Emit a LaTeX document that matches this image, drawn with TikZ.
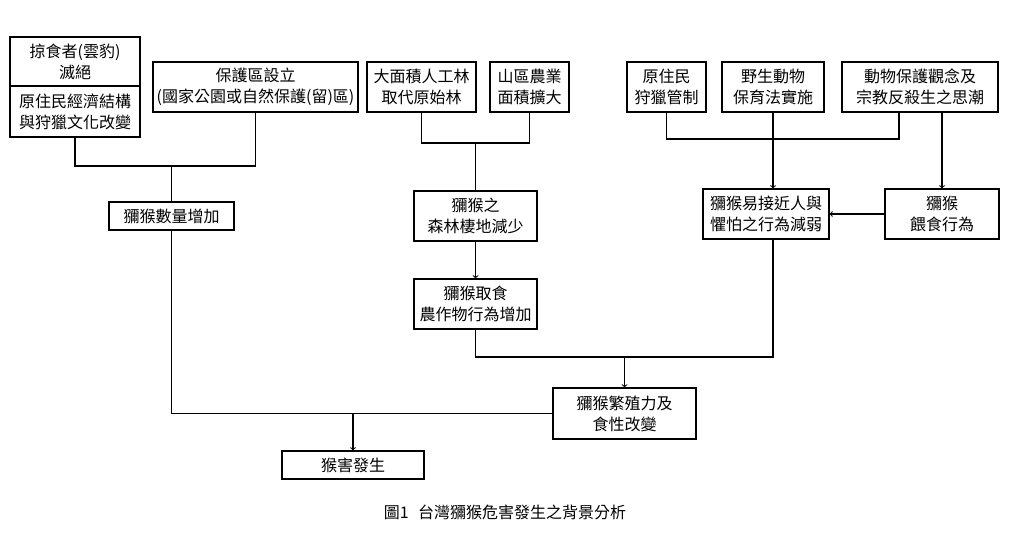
\documentclass[tikz,border=0pt]{standalone}
\usepackage{fontspec}
\setmainfont{Noto Sans CJK TC}
\begin{document}
\begin{tikzpicture}[x=1pt, y=-1pt,
	box/.style={draw, line width=1.1pt, inner sep=0pt, align=center, font=\fontsize{16pt}{21pt}\selectfont},
	link/.style={line width=1.1pt},
	arr/.style={-to, line width=1.1pt}]
				\useasboundingbox (0,0) rectangle (1024,540);
				% top row
				\node[box, minimum width=130, minimum height=49] (pred) at (75,61.5) {掠食者(雲豹)\\滅絕};
				\node[box, minimum width=130, minimum height=51] (econ) at (75,111.5) {原住民經濟結構\\與狩獵文化改變};
				\node[box, minimum width=205, minimum height=50] (reserve) at (255.5,87) {保護區設立\\(國家公園或自然保護(留)區)};
				\node[box, minimum width=109, minimum height=50] (plant) at (421.5,87) {大面積人工林\\取代原始林};
				\node[box, minimum width=79, minimum height=50] (farm) at (529.5,87) {山區農業\\面積擴大};
				\node[box, minimum width=79, minimum height=50] (hunt) at (666.5,87) {原住民\\狩獵管制};
				\node[box, minimum width=102, minimum height=50] (law) at (773,87) {野生動物\\保育法實施};
				\node[box, minimum width=156, minimum height=50] (belief) at (920,87) {動物保護觀念及\\宗教反殺生之思潮};
				% middle
				\node[box, minimum width=125, minimum height=28] (count) at (171.5,216) {獼猴數量增加};
				\node[box, minimum width=123, minimum height=50] (habitat) at (475.5,216) {獼猴之\\森林棲地減少};
				\node[box, minimum width=123, minimum height=50] (crop) at (475.5,304) {獼猴取食\\農作物行為增加};
				\node[box, minimum width=126, minimum height=50] (fear) at (766,214) {獼猴易接近人與\\懼怕之行為減弱};
				\node[box, minimum width=114, minimum height=50] (feed) at (942,214) {獼猴\\餵食行為};
				% bottom
				\node[box, minimum width=143, minimum height=51] (breed) at (624.5,413.5) {獼猴繁殖力及\\食性改變};
				\node[box, minimum width=142, minimum height=28] (harm) at (353,465) {猴害發生};
				\node[font=\fontsize{16pt}{20pt}\selectfont] (caption) at (505,512) {圖1\hspace{0.6em}台灣獼猴危害發生之背景分析};
				% connectors
				\coordinate (j1) at (171.5,166);
				\coordinate (j2) at (475.5,143);
				\coordinate (j3) at (773,139);
				\coordinate (j4) at (624.5,357);
				\draw[link] (econ.south) |- (j1) -| (reserve.south);
				\draw[link] (j1) -- (count.north);
				\draw[link] (plant.south) |- (j2) -| (farm.south);
				\draw[link] (j2) -- (habitat.north);
				\draw[arr] (habitat.south) -- (crop.north);
				\draw[link] (hunt.south) |- (j3) -| ([xshift=-21pt]belief.south);
				\draw[arr] (law.south) -- (law.south |- fear.north);
				\draw[arr] (feed.north |- belief.south) -- (feed.north);
				\draw[arr] (feed.west) -- (fear.east);
				\draw[link] (crop.south) |- (j4) -| (law.south |- fear.south);
				\draw[arr] (j4) -- (breed.north);
				\draw[link] (count.south) |- (breed.west);
				\draw[arr] (harm.north |- breed.west) -- (harm.north);
			\end{tikzpicture}
\end{document}
